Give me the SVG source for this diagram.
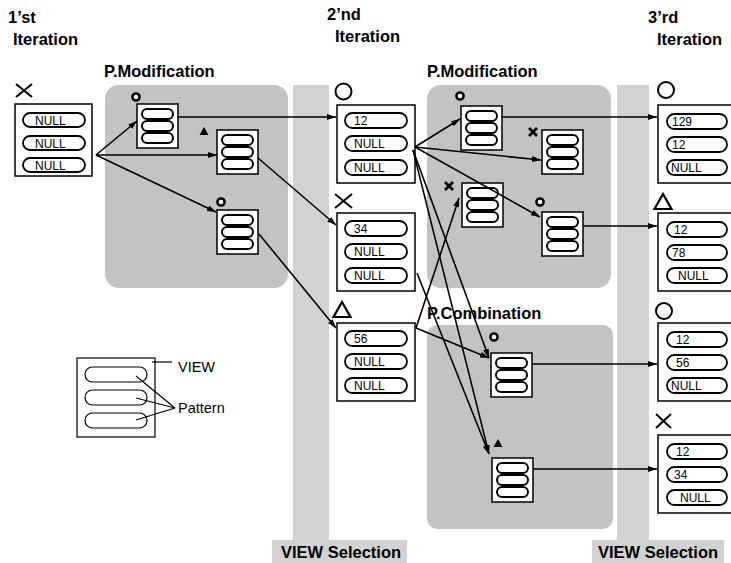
<svg xmlns="http://www.w3.org/2000/svg" xmlns:xlink="http://www.w3.org/1999/xlink" width="731" height="563" viewBox="0 0 731 563">
<style>
.bg{fill:#fff}
.reg{fill:#c3c3c3}
.strip{fill:#d2d2d2}
.box{fill:#fff;stroke:#000;stroke-width:1.5}
.pill{fill:#fff;stroke:#000;stroke-width:1.8}
.spill{fill:#fff;stroke:#000;stroke-width:2}
.pt{font-family:"Liberation Sans",Arial,sans-serif;font-size:12px;fill:#000}
.h{font-family:"Liberation Sans",Arial,sans-serif;font-weight:bold;font-size:16.5px;fill:#000}
.lg{font-family:"Liberation Sans",Arial,sans-serif;font-size:14.5px;fill:#000}
.mk{fill:none;stroke:#000;stroke-width:2}
.smk{fill:#fff;stroke:#000;stroke-width:2.5}
.sx{stroke:#000;stroke-width:2.6}
.conn line{stroke:#000;stroke-width:1.6;marker-end:url(#ah)}
.leg line{stroke:#000;stroke-width:1.2}
</style>
<defs>
<marker id="ah" viewBox="0 0 9 6" refX="9" refY="3" markerWidth="9" markerHeight="6" markerUnits="userSpaceOnUse" orient="auto"><path d="M0,0 L9,3 L0,6 z" fill="#000"/></marker>
<g id="pv">
<rect class="box" x="0" y="0" width="41" height="44"/>
<rect class="spill" x="5" y="5" width="31" height="10" rx="5"/>
<rect class="spill" x="5" y="17" width="31" height="10" rx="5"/>
<rect class="spill" x="5" y="29" width="31" height="10" rx="5"/>
</g>
<g id="vb">
<rect class="box" x="0" y="0" width="78" height="78"/>
<rect class="pill" x="8" y="8" width="62" height="15" rx="7.5"/>
<rect class="pill" x="8" y="31" width="62" height="15" rx="7.5"/>
<rect class="pill" x="8" y="55" width="62" height="15" rx="7.5"/>
</g>
<g id="vb3">
<rect class="box" x="0" y="0" width="85" height="78"/>
<rect class="pill" x="9" y="9" width="60" height="15" rx="7.5"/>
<rect class="pill" x="9" y="32" width="60" height="15" rx="7.5"/>
<rect class="pill" x="9" y="55" width="60" height="15" rx="7.5"/>
</g>
</defs>
<rect class="bg" x="0" y="0" width="731" height="563"/>

<g id="regions">
<rect class="reg" x="105" y="85" width="183" height="203" rx="14"/>
<rect class="strip" x="293" y="85" width="36" height="456"/>
<rect class="reg" x="427" y="85" width="184" height="203" rx="14"/>
<rect class="reg" x="427" y="325" width="186" height="204" rx="10"/>
<rect class="strip" x="617" y="85" width="32" height="456"/>
<rect class="strip" x="272" y="540" width="135" height="23"/>
<rect class="strip" x="592" y="540" width="132" height="23"/>
</g>

<g id="labels">
<text class="h" x="8" y="23">1’st</text>
<text class="h" x="13" y="45">Iteration</text>
<text class="h" x="327" y="20">2’nd</text>
<text class="h" x="335" y="42">Iteration</text>
<text class="h" x="648" y="23">3’rd</text>
<text class="h" x="657" y="45">Iteration</text>
<text class="h" x="104" y="77">P.Modification</text>
<text class="h" x="427" y="77">P.Modification</text>
<text class="h" x="427" y="319">P.Combination</text>
<text class="h" x="281" y="558">VIEW Selection</text>
<text class="h" x="598" y="558">VIEW Selection</text>
</g>

<g id="view-1st">
<line class="sx" x1="16" y1="84" x2="32" y2="97" style="stroke-width:2"/>
<line class="sx" x1="32" y1="84" x2="16" y2="97" style="stroke-width:2"/>
<rect class="box" x="15" y="104" width="77" height="72"/>
<rect class="pill" x="23" y="113" width="62" height="14" rx="7"/>
<rect class="pill" x="23" y="136" width="62" height="14" rx="7"/>
<rect class="pill" x="23" y="158" width="62" height="14" rx="7"/>
<text class="pt" x="35" y="124.5">NULL</text>
<text class="pt" x="35" y="147.5">NULL</text>
<text class="pt" x="35" y="169.5">NULL</text>
</g>

<g id="pm1-a">
<circle class="smk" cx="136" cy="97" r="3.6"/>
<use xlink:href="#pv" x="137" y="104"/>
</g>
<g id="pm1-b">
<polygon points="204,127 208.5,135 199.5,135" fill="#000"/>
<use xlink:href="#pv" x="217" y="130"/>
</g>
<g id="pm1-c">
<circle class="smk" cx="221" cy="202" r="3.6"/>
<use xlink:href="#pv" x="217" y="210"/>
</g>

<g id="view-2nd-1">
<circle class="mk" cx="343.5" cy="91.5" r="8"/>
<use xlink:href="#vb" x="337" y="105"/>
<text class="pt" x="354" y="124.5">12</text>
<text class="pt" x="354" y="147.5">NULL</text>
<text class="pt" x="354" y="171.5">NULL</text>
</g>
<g id="view-2nd-2">
<line class="sx" x1="335" y1="194" x2="352" y2="208" style="stroke-width:2"/>
<line class="sx" x1="352" y1="194" x2="335" y2="208" style="stroke-width:2"/>
<use xlink:href="#vb" x="337" y="213"/>
<text class="pt" x="354" y="232.5">34</text>
<text class="pt" x="354" y="255.5">NULL</text>
<text class="pt" x="354" y="279.5">NULL</text>
</g>
<g id="view-2nd-3">
<polygon class="mk" points="342,302 350.5,317 333.5,317" style="stroke-width:2.2"/>
<use xlink:href="#vb" x="337" y="323"/>
<text class="pt" x="354" y="342.5">56</text>
<text class="pt" x="354" y="365.5">NULL</text>
<text class="pt" x="354" y="389.5">NULL</text>
</g>

<g id="pm2-d">
<circle class="smk" cx="460" cy="96" r="3.6"/>
<use xlink:href="#pv" x="461" y="106"/>
</g>
<g id="pm2-e">
<line class="sx" x1="529" y1="128" x2="537" y2="136"/>
<line class="sx" x1="537" y1="128" x2="529" y2="136"/>
<use xlink:href="#pv" x="542" y="130"/>
</g>
<g id="pm2-f">
<line class="sx" x1="445" y1="182" x2="453" y2="190"/>
<line class="sx" x1="453" y1="182" x2="445" y2="190"/>
<use xlink:href="#pv" x="462" y="183"/>
</g>
<g id="pm2-g">
<circle class="smk" cx="540" cy="202" r="3.6"/>
<use xlink:href="#pv" x="542" y="212"/>
</g>

<g id="pc-h">
<circle class="smk" cx="494" cy="337" r="3.6"/>
<use xlink:href="#pv" x="491" y="353"/>
</g>
<g id="pc-i">
<polygon points="498,439 502.5,447 493.5,447" fill="#000"/>
<use xlink:href="#pv" x="492" y="458"/>
</g>

<g id="view-3rd-1">
<circle class="mk" cx="666" cy="90" r="8"/>
<use xlink:href="#vb3" x="658" y="105"/>
<text class="pt" x="672" y="125.5">129</text>
<text class="pt" x="672" y="148.5">12</text>
<text class="pt" x="671" y="171.5">NULL</text>
</g>
<g id="view-3rd-2">
<polygon class="mk" points="663,194 671.5,209 654.5,209" style="stroke-width:2.2"/>
<use xlink:href="#vb3" x="658" y="213"/>
<text class="pt" x="674" y="233.5">12</text>
<text class="pt" x="672" y="256.5">78</text>
<text class="pt" x="678" y="279.5">NULL</text>
</g>
<g id="view-3rd-3">
<circle class="mk" cx="664" cy="311" r="8"/>
<use xlink:href="#vb3" x="658" y="323"/>
<text class="pt" x="676" y="343.5">12</text>
<text class="pt" x="676" y="366.5">56</text>
<text class="pt" x="671" y="389.5">NULL</text>
</g>
<g id="view-3rd-4">
<line class="sx" x1="656" y1="414" x2="671" y2="428" style="stroke-width:2"/>
<line class="sx" x1="671" y1="414" x2="656" y2="428" style="stroke-width:2"/>
<use xlink:href="#vb3" x="658" y="435"/>
<text class="pt" x="676" y="455.5">12</text>
<text class="pt" x="674" y="478.5">34</text>
<text class="pt" x="680" y="501.5">NULL</text>
</g>

<g id="legend" class="leg">
<rect x="77" y="358" width="78" height="79" fill="#fff" stroke="#000" stroke-width="1.2"/>
<rect x="85" y="367" width="62" height="15" rx="7.5" fill="#fff" stroke="#000" stroke-width="1.2"/>
<rect x="85" y="390" width="62" height="15" rx="7.5" fill="#fff" stroke="#000" stroke-width="1.2"/>
<rect x="85" y="413" width="62" height="15" rx="7.5" fill="#fff" stroke="#000" stroke-width="1.2"/>
<line x1="152" y1="362" x2="172" y2="362"/>
<line x1="136" y1="376" x2="175" y2="408"/>
<line x1="136" y1="398" x2="175" y2="408"/>
<line x1="136" y1="420" x2="175" y2="408"/>
<text class="lg" x="178" y="372">VIEW</text>
<text class="lg" x="178" y="413">Pattern</text>
</g>

<g id="connectors" class="conn">
<line x1="96" y1="155" x2="137" y2="121"/>
<line x1="96" y1="155" x2="217" y2="155"/>
<line x1="96" y1="155" x2="216" y2="212"/>
<line x1="178" y1="117" x2="336" y2="117"/>
<line x1="258" y1="158" x2="336" y2="225"/>
<line x1="259" y1="234" x2="336" y2="328"/>
<line x1="415" y1="147" x2="460" y2="119"/>
<line x1="415" y1="147" x2="541" y2="160"/>
<line x1="415" y1="147" x2="540" y2="217"/>
<line x1="413" y1="150" x2="489" y2="358"/>
<line x1="413" y1="150" x2="489" y2="454"/>
<line x1="417" y1="273" x2="489" y2="454"/>
<line x1="416" y1="328" x2="489" y2="358"/>
<line x1="416" y1="328" x2="459" y2="198"/>
<line x1="502" y1="117" x2="657" y2="117"/>
<line x1="583" y1="226" x2="657" y2="226"/>
<line x1="532" y1="364" x2="657" y2="364"/>
<line x1="533" y1="469" x2="657" y2="469"/>
</g>
</svg>
